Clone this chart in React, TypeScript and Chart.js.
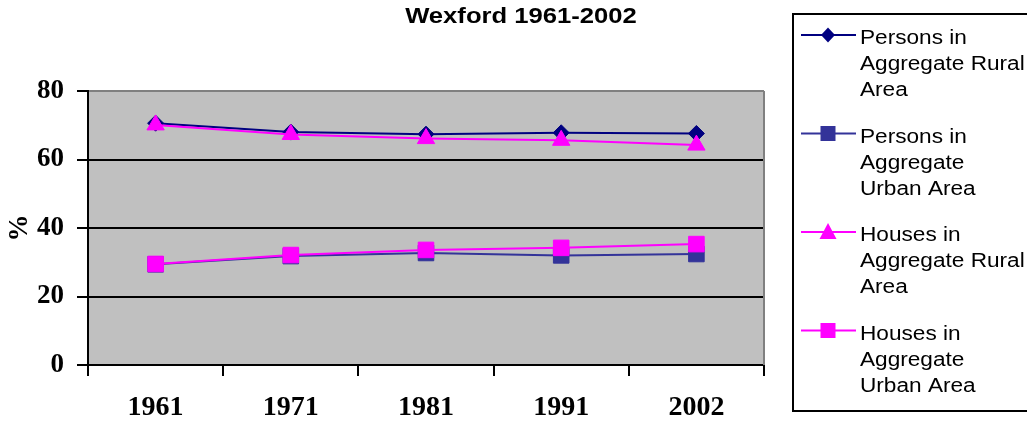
import React, { useEffect, useRef } from "react";
import { Chart, registerables } from "chart.js";

Chart.register(...registerables);

const titleText = "Wexford 1961-2002";
const years = ["1961", "1971", "1981", "1991", "2002"];
const personsRural = [70.6, 68.0, 67.4, 67.8, 67.6];
const personsUrban = [29.4, 31.8, 32.7, 32.0, 32.4];
const housesRural = [70.1, 67.3, 66.1, 65.6, 64.2];
const housesUrban = [29.5, 32.1, 33.6, 34.2, 35.3];
const legendLines = [
  ["Persons in", "Aggregate Rural", "Area"],
  ["Persons in", "Aggregate", "Urban Area"],
  ["Houses in", "Aggregate Rural", "Area"],
  ["Houses in", "Aggregate", "Urban Area"],
];
const seriesColors = ["#000080", "#333399", "#FF00FF", "#FF00FF"];
const seriesMarkers = ["diamond", "square", "triangle", "square"];

const SERIF = "'Liberation Serif', 'Times New Roman', serif";
const SANS = "'Liberation Sans', Arial, sans-serif";

function drawMarker(ctx: CanvasRenderingContext2D, kind: string, x: number, y: number, color: string) {
  ctx.save();
  ctx.fillStyle = color;
  ctx.beginPath();
  if (kind === "diamond") {
    ctx.moveTo(x, y - 7.5);
    ctx.lineTo(x + 7, y);
    ctx.lineTo(x, y + 7.5);
    ctx.lineTo(x - 7, y);
  } else if (kind === "square") {
    ctx.rect(x - 7.5, y - 7.5, 15, 15);
  } else {
    ctx.moveTo(x, y - 9);
    ctx.lineTo(x + 8.5, y + 7);
    ctx.lineTo(x - 8.5, y + 7);
  }
  ctx.closePath();
  ctx.fill();
  ctx.restore();
}

const decorPlugin = {
  id: "decor",
  beforeDraw(chart: any) {
    const { ctx, chartArea } = chart;
    ctx.save();
    ctx.fillStyle = "#FFFFFF";
    ctx.fillRect(0, 0, chart.width, chart.height);
    ctx.fillStyle = "#C0C0C0";
    ctx.fillRect(chartArea.left, chartArea.top, chartArea.right - chartArea.left, chartArea.bottom - chartArea.top);
    ctx.restore();
  },
  afterDraw(chart: any) {
    const { ctx, chartArea } = chart;
    ctx.save();
    ctx.strokeStyle = "#808080";
    ctx.lineWidth = 2;
    ctx.beginPath();
    ctx.moveTo(chartArea.right, chartArea.top);
    ctx.lineTo(chartArea.right, chartArea.bottom);
    ctx.stroke();

    ctx.fillStyle = "#000";
    ctx.font = `bold 22px ${SANS}`;
    ctx.textAlign = "center";
    ctx.textBaseline = "alphabetic";
    ctx.save();
    ctx.translate(521, 23);
    ctx.scale(1.165, 1);
    ctx.fillText(titleText, 0, 0);
    ctx.restore();

    ctx.strokeStyle = "#000";
    ctx.lineWidth = 2;
    ctx.strokeRect(793, 14, 250, 397);

    ctx.font = `19.5px ${SANS}`;
    ctx.textAlign = "left";
    legendLines.forEach((lines, i) => {
      const ly = 35 + i * 98.5;
      ctx.strokeStyle = seriesColors[i];
      ctx.lineWidth = 2;
      ctx.beginPath();
      ctx.moveTo(801, ly);
      ctx.lineTo(856, ly);
      ctx.stroke();
      drawMarker(ctx, seriesMarkers[i], 828, ly, seriesColors[i]);
      ctx.fillStyle = "#000";
      lines.forEach((t, j) => {
        ctx.save();
        ctx.translate(860, ly + 9 + j * 26);
        ctx.scale(1.16, 1);
        ctx.fillText(t, 0, 0);
        ctx.restore();
      });
    });
    ctx.restore();
  },
};

export default function App() {
  const canvasRef = useRef<HTMLCanvasElement | null>(null);

  useEffect(() => {
    if (!canvasRef.current) return;
    const chart = new Chart(canvasRef.current, {
      type: "line",
      data: {
        labels: years,
        datasets: [
          {
            label: legendLines[0].join(" "),
            data: personsRural,
            borderColor: seriesColors[0],
            backgroundColor: seriesColors[0],
            borderWidth: 2,
            pointStyle: "rectRot",
            pointRadius: 8,
            pointBorderWidth: 1,
            order: 1,
          },
          {
            label: legendLines[1].join(" "),
            data: personsUrban,
            borderColor: seriesColors[1],
            backgroundColor: seriesColors[1],
            borderWidth: 2,
            pointStyle: "rect",
            pointRadius: 11,
            pointBorderWidth: 1,
            order: 1,
          },
          {
            label: legendLines[2].join(" "),
            data: housesRural,
            borderColor: seriesColors[2],
            backgroundColor: seriesColors[2],
            borderWidth: 2,
            pointStyle: "triangle",
            pointRadius: 10,
            pointBorderWidth: 1,
            order: 0,
          },
          {
            label: legendLines[3].join(" "),
            data: housesUrban,
            borderColor: seriesColors[3],
            backgroundColor: seriesColors[3],
            borderWidth: 2,
            pointStyle: "rect",
            pointRadius: 11,
            pointBorderWidth: 1,
            order: 0,
          },
        ],
      },
      options: {
        responsive: false,
        animation: false,
        devicePixelRatio: 1,
        layout: { padding: { left: 0, top: 91, right: 263, bottom: 0 } },
        plugins: {
          legend: { display: false },
          title: { display: false },
          tooltip: { enabled: false },
        },
        elements: { line: { tension: 0, fill: false } },
        scales: {
          x: {
            type: "category",
            offset: true,
            grid: {
              offset: true,
              drawOnChartArea: false,
              drawTicks: true,
              tickLength: 11,
              color: "#000",
              lineWidth: 2,
            },
            border: { color: "#000", width: 2 },
            ticks: {
              font: { family: SERIF, size: 28, weight: "bold" },
              color: "#000",
              padding: 15,
              maxRotation: 0,
              autoSkip: false,
            },
            afterFit: (s: any) => {
              s.height = 56;
            },
          },
          y: {
            min: 0,
            max: 80,
            ticks: {
              stepSize: 20,
              font: { family: SERIF, size: 27, weight: "bold" },
              color: "#000",
              padding: 13,
            },
            grid: {
              color: (c: any) => (c.tick && c.tick.value === 80 ? "#808080" : "#000"),
              lineWidth: 2,
              tickLength: 11,
              tickColor: "#000",
            },
            border: { color: "#000", width: 2 },
            title: {
              display: true,
              text: "%",
              font: { family: SERIF, size: 27, weight: "bold" },
              color: "#000",
              padding: { top: 4, bottom: 0 },
            },
            afterFit: (s: any) => {
              s.width = 88;
            },
          },
        },
      },
      plugins: [decorPlugin],
    });
    return () => chart.destroy();
  }, []);

  return (
    <div style={{ position: "absolute", left: 0, top: 0, width: 1027, height: 421 }}>
      <canvas ref={canvasRef} width={1027} height={421} />
    </div>
  );
}
